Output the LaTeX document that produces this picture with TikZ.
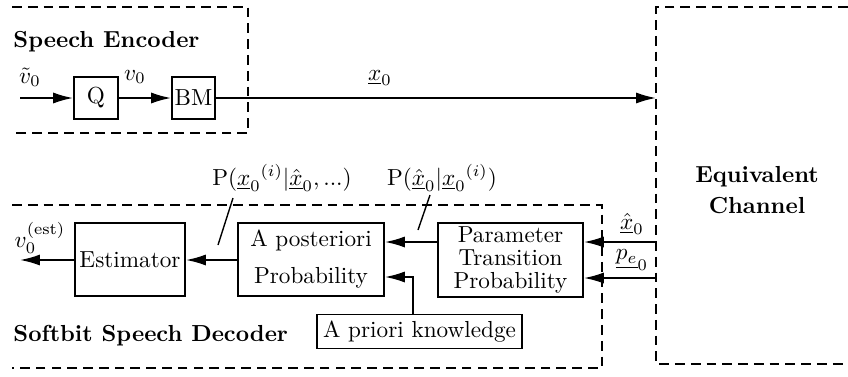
\documentclass[tikz,border=0pt]{standalone}
\usetikzlibrary{arrows.meta}
\begin{document}
\begin{tikzpicture}[x=0.431pt,y=-0.431pt,
  blk/.style={draw,line width=0.8pt,inner sep=1pt,align=center},
  arr/.style={line width=0.8pt,-{Latex[length=8.6pt,width=4.8pt]}},
  lab/.style={inner sep=0pt},
  ln/.style={line width=0.6pt},
  dsh/.style={line width=0.8pt,dash pattern=on 4.2pt off 2.6pt},
  ttl/.style={font=\bfseries,anchor=west,inner sep=0pt}]
\useasboundingbox (0,0) rectangle (848,376);
% dashed frames
\draw[dsh] (12,7) -- (248,7) -- (248,133) -- (12,133);
\draw[dsh] (12,205) -- (602,205) -- (602,368) -- (12,368);
\draw[dsh] (848,7) -- (656,7) -- (656,364) -- (848,364);
% titles
\node[ttl] (enc) at (13,42) {Speech Encoder};
\node[ttl] (dec) at (13,336) {Softbit Speech Decoder};
\node[font=\bfseries,align=center] (chan) at (757,190) {Equivalent\\[1pt]Channel};
% encoder blocks
\node[blk,minimum width=44*0.431pt,minimum height=42*0.431pt] (Q) at (96,98) {Q};
\node[blk,minimum width=43*0.431pt,minimum height=42*0.431pt] (BM) at (193.5,98) {BM};
\coordinate (vin) at (20,98);
\coordinate (chin) at (656,98);
\draw[arr] (vin) -- (Q.west);
\draw[arr] (Q.east) -- (BM.west);
\draw[arr] (BM.east) -- (chin);
\node[lab] (lv) at (30,77) {$\tilde{v}_0$};
\node[lab] (lq) at (135,77) {$v_0$};
\node[lab] (lx) at (380,78) {$\underline{x}_0$};
% decoder blocks
\node[blk,minimum width=110*0.431pt,minimum height=73*0.431pt] (Est) at (130,259.5) {Estimator};
\node[blk,minimum width=146*0.431pt,minimum height=73*0.431pt] (APP) at (311,259.5) {A posteriori\\[4pt]Probability};
\node[blk,minimum width=145*0.431pt,minimum height=74*0.431pt] (PTP) at (510.5,260) {Parameter\\[-2pt]Transition\\[-2pt]Probability};
\node[blk,minimum width=205*0.431pt,minimum height=34*0.431pt] (Apr) at (419.5,331.5) {A priori knowledge};
\coordinate (vout) at (20,260);
\coordinate (ch1) at (656,242);
\coordinate (ch2) at (656,278);
\coordinate (ak) at (413,277);
\draw[arr] (Est.west |- vout) -- (vout);
\draw[arr] (APP.west |- vout) -- (Est.east |- vout);
\draw[arr] (PTP.west |- ch1) -- (APP.east |- ch1);
\draw[arr] (Apr.north -| ak) -- (ak) -- (APP.east |- ak);
\draw[arr] (ch1) -- (PTP.east |- ch1);
\draw[arr] (ch2) -- (PTP.east |- ch2);
\node[lab] (lest) at (40,238) {$v_0^{(\mathrm{est})}$};
\node[lab] (lxh) at (632,224) {$\underline{\hat{x}}_0$};
\node[lab] (lpe) at (632,260) {$\underline{p_{e}}_{0}$};
\node[lab] (lp1) at (282,178) {$\mathrm{P}({\underline{x}_0}^{(i)}|\underline{\hat{x}}_0,...)$};
\node[lab] (lp2) at (442,178) {$\mathrm{P}(\underline{\hat{x}}_0|{\underline{x}_0}^{(i)})$};
\coordinate (s1a) at (233,198);
\coordinate (s1b) at (218,245);
\coordinate (s2a) at (430,195);
\coordinate (s2b) at (418,230);
\draw[ln] (s1a) -- (s1b);
\draw[ln] (s2a) -- (s2b);
\end{tikzpicture}
\end{document}
